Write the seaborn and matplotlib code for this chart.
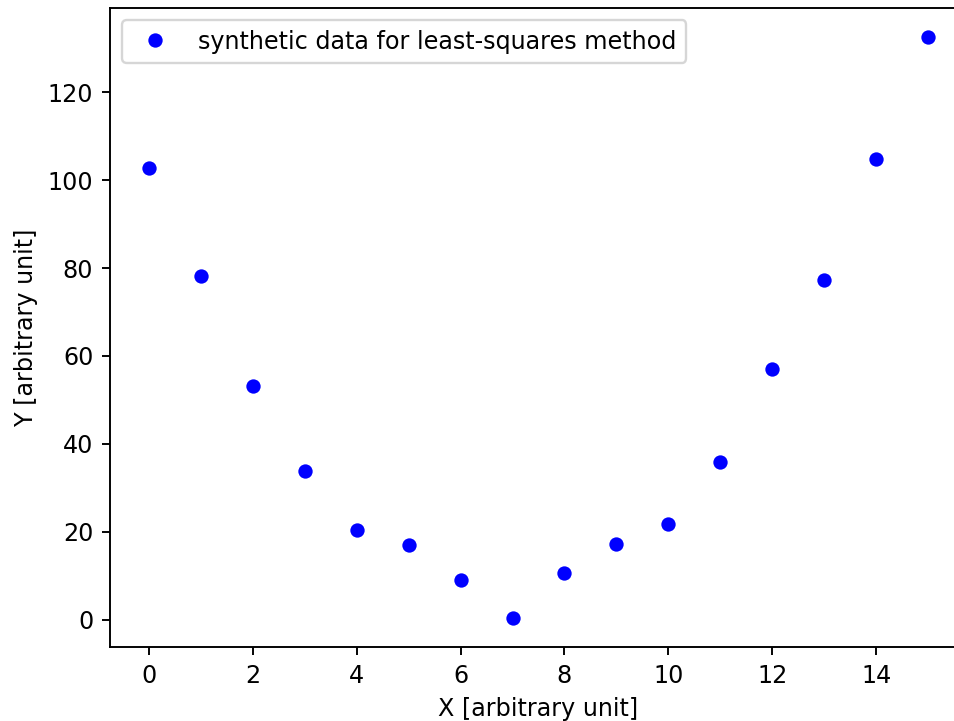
import matplotlib
matplotlib.use("Agg")
import matplotlib.pyplot as plt
import seaborn as sns
import pandas as pd

x_values = list(range(16))
y_values = [102.7, 78.2, 53.2, 33.9, 20.5, 17.0, 9.1, 0.45,
            10.7, 17.3, 21.8, 35.9, 57.0, 77.3, 104.8, 132.5]
series_label = "synthetic data for least-squares method"

df = pd.DataFrame({"x": x_values, "y": y_values})

DPI = 172
fig, ax = plt.subplots(figsize=(954 / DPI, 721 / DPI), dpi=DPI)
# the axes run slightly past the right edge of the canvas
fig.subplots_adjust(left=110 / 954, right=967 / 954, top=1 - 8 / 721, bottom=1 - 647 / 721)

sns.lineplot(data=df, x="x", y="y", ax=ax, color="blue", linestyle="none",
             marker="o", markersize=6, markeredgewidth=0, label=series_label)

ax.set_xlabel("X [arbitrary unit]")
ax.set_ylabel("Y [arbitrary unit]")
ax.set_xticks(range(0, 16, 2))
ax.legend(loc="upper left")

fig.savefig("out.png", dpi=DPI)
